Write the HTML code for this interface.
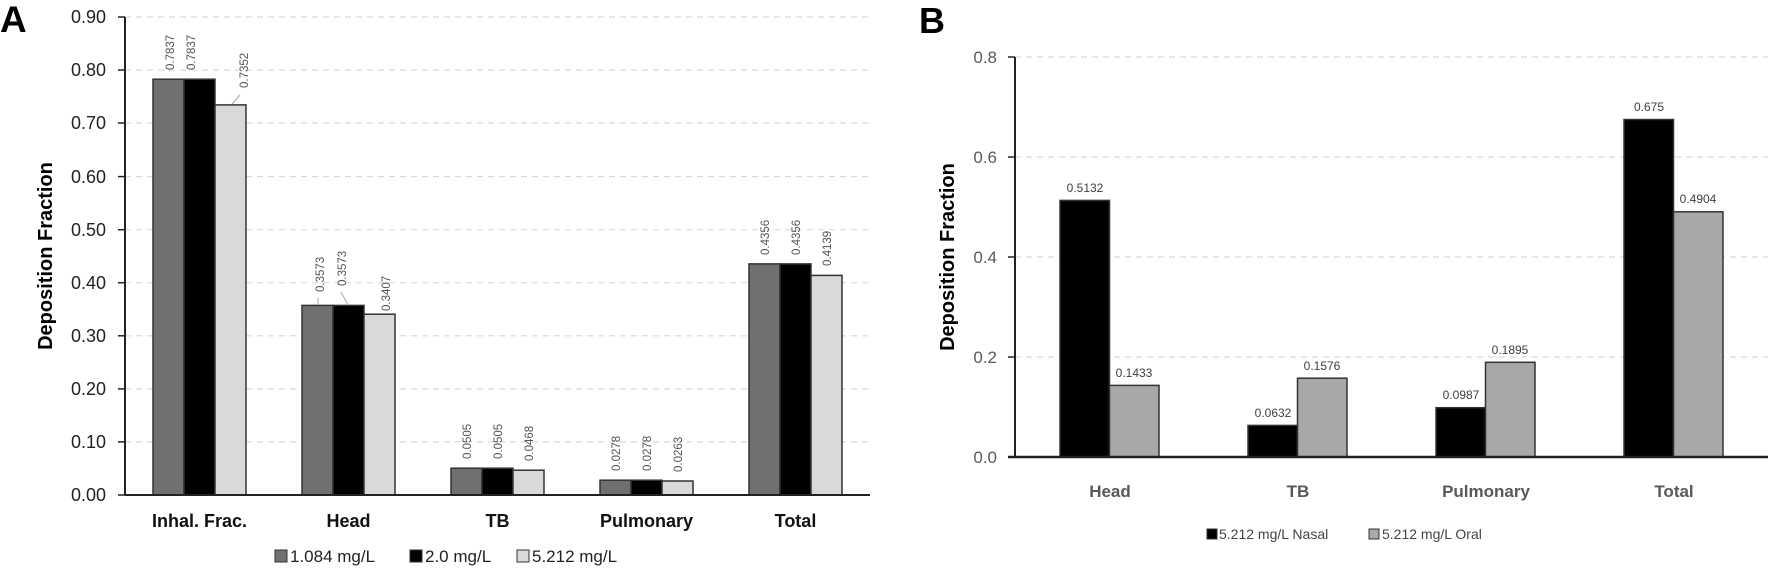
<!DOCTYPE html>
<html><head><meta charset="utf-8"><style>
html,body{margin:0;padding:0;background:#fff;}
svg{display:block;font-family:"Liberation Sans",sans-serif;}
.t{font-size:18px;fill:#222;}
.tb{font-size:17px;fill:#595959;}
.v{font-size:11.5px;fill:#555;}
.vb{font-size:12px;fill:#404040;}
.c{font-size:18px;font-weight:bold;fill:#111;}
.cb{font-size:17px;font-weight:bold;fill:#595959;}
.g{stroke:#d9d9d9;stroke-width:1.2;stroke-dasharray:6,5;}
</style></head><body>
<svg width="1772" height="573" viewBox="0 0 1772 573" xmlns="http://www.w3.org/2000/svg">
<text x="0" y="32" style="font-size:37px;font-weight:bold" fill="#000">A</text>
<text x="919" y="33" style="font-size:36px;font-weight:bold" fill="#000">B</text>

<!-- Chart A -->
<g>
<line class="g" x1="125" x2="870" y1="17" y2="17"/>
<line class="g" x1="125" x2="870" y1="70" y2="70"/>
<line class="g" x1="125" x2="870" y1="123" y2="123"/>
<line class="g" x1="125" x2="870" y1="176.6" y2="176.6"/>
<line class="g" x1="125" x2="870" y1="229.7" y2="229.7"/>
<line class="g" x1="125" x2="870" y1="282.7" y2="282.7"/>
<line class="g" x1="125" x2="870" y1="335.8" y2="335.8"/>
<line class="g" x1="125" x2="870" y1="388.9" y2="388.9"/>
<line class="g" x1="125" x2="870" y1="441.9" y2="441.9"/>
<g class="t" text-anchor="end">
<text x="106" y="23">0.90</text><text x="106" y="76">0.80</text><text x="106" y="129">0.70</text>
<text x="106" y="183">0.60</text><text x="106" y="236">0.50</text><text x="106" y="289">0.40</text>
<text x="106" y="342">0.30</text><text x="106" y="395">0.20</text><text x="106" y="448">0.10</text>
<text x="106" y="501">0.00</text>
</g>
<g stroke="#222" stroke-width="1.5">
<line x1="118" x2="125" y1="17" y2="17"/><line x1="118" x2="125" y1="70" y2="70"/><line x1="118" x2="125" y1="123" y2="123"/>
<line x1="118" x2="125" y1="176.6" y2="176.6"/><line x1="118" x2="125" y1="229.7" y2="229.7"/><line x1="118" x2="125" y1="282.7" y2="282.7"/>
<line x1="118" x2="125" y1="335.8" y2="335.8"/><line x1="118" x2="125" y1="388.9" y2="388.9"/><line x1="118" x2="125" y1="441.9" y2="441.9"/>
<line x1="118" x2="125" y1="495" y2="495"/>
</g>
<g stroke="#333" stroke-width="1.5">
<rect x="153" y="79.2" width="31" height="415.8" fill="#707070"/>
<rect x="184" y="79.2" width="31" height="415.8" fill="#000"/>
<rect x="215" y="104.9" width="31" height="390.1" fill="#d9d9d9"/>
<rect x="302" y="305.4" width="31" height="189.6" fill="#707070"/>
<rect x="333" y="305.4" width="31" height="189.6" fill="#000"/>
<rect x="364" y="314.2" width="31" height="180.8" fill="#d9d9d9"/>
<rect x="451" y="468.2" width="31" height="26.8" fill="#707070"/>
<rect x="482" y="468.2" width="31" height="26.8" fill="#000"/>
<rect x="513" y="470.2" width="31" height="24.8" fill="#d9d9d9"/>
<rect x="600" y="480.2" width="31" height="14.8" fill="#707070"/>
<rect x="631" y="480.2" width="31" height="14.8" fill="#000"/>
<rect x="662" y="481" width="31" height="14" fill="#d9d9d9"/>
<rect x="749" y="263.9" width="31" height="231.1" fill="#707070"/>
<rect x="780" y="263.9" width="31" height="231.1" fill="#000"/>
<rect x="811" y="275.4" width="31" height="219.6" fill="#d9d9d9"/>
</g>
<line x1="125" y1="17" x2="125" y2="495" stroke="#222" stroke-width="2"/>
<line x1="125" y1="495" x2="870" y2="495" stroke="#222" stroke-width="2"/>
<g stroke="#aaa" stroke-width="1">
<line x1="232" y1="104" x2="240" y2="95"/>
<line x1="318" y1="298" x2="318" y2="305"/>
<line x1="341" y1="292" x2="348" y2="305"/>
</g>
<g class="v">
<text transform="translate(174,70) rotate(-90)">0.7837</text>
<text transform="translate(195,70) rotate(-90)">0.7837</text>
<text transform="translate(248,88) rotate(-90)">0.7352</text>
<text transform="translate(324,292) rotate(-90)">0.3573</text>
<text transform="translate(346,286) rotate(-90)">0.3573</text>
<text transform="translate(390,311) rotate(-90)">0.3407</text>
<text transform="translate(471,459) rotate(-90)">0.0505</text>
<text transform="translate(502,459) rotate(-90)">0.0505</text>
<text transform="translate(533,461) rotate(-90)">0.0468</text>
<text transform="translate(620,471) rotate(-90)">0.0278</text>
<text transform="translate(651,471) rotate(-90)">0.0278</text>
<text transform="translate(682,472) rotate(-90)">0.0263</text>
<text transform="translate(769,255) rotate(-90)">0.4356</text>
<text transform="translate(800,255) rotate(-90)">0.4356</text>
<text transform="translate(831,266) rotate(-90)">0.4139</text>
</g>
<g class="c" text-anchor="middle">
<text x="199.5" y="527">Inhal. Frac.</text>
<text x="348.5" y="527">Head</text>
<text x="497.5" y="527">TB</text>
<text x="646.5" y="527">Pulmonary</text>
<text x="795.5" y="527">Total</text>
</g>
<text transform="translate(52,256) rotate(-90)" text-anchor="middle" style="font-size:20px;font-weight:bold" fill="#000">Deposition Fraction</text>
<g style="font-size:17px" fill="#222">
<rect x="275" y="550" width="12" height="12" fill="#707070" stroke="#333"/>
<text x="290" y="562">1.084 mg/L</text>
<rect x="410" y="550" width="12" height="12" fill="#000" stroke="#333"/>
<text x="425" y="562">2.0 mg/L</text>
<rect x="517" y="550" width="12" height="12" fill="#d9d9d9" stroke="#333"/>
<text x="532" y="562">5.212 mg/L</text>
</g>
</g>

<!-- Chart B -->
<g>
<line class="g" x1="1015" x2="1768" y1="57" y2="57"/>
<line class="g" x1="1015" x2="1768" y1="157" y2="157"/>
<line class="g" x1="1015" x2="1768" y1="257" y2="257"/>
<line class="g" x1="1015" x2="1768" y1="357" y2="357"/>
<g class="tb" text-anchor="end">
<text x="997" y="63">0.8</text><text x="997" y="163">0.6</text><text x="997" y="263">0.4</text>
<text x="997" y="363">0.2</text><text x="997" y="463">0.0</text>
</g>
<g stroke="#222" stroke-width="1.5">
<line x1="1008" x2="1015" y1="57" y2="57"/><line x1="1008" x2="1015" y1="157" y2="157"/>
<line x1="1008" x2="1015" y1="257" y2="257"/><line x1="1008" x2="1015" y1="357" y2="357"/>
<line x1="1008" x2="1015" y1="457" y2="457"/>
</g>
<g stroke="#333" stroke-width="1.5">
<rect x="1060" y="200.4" width="49.5" height="256.6" fill="#000"/>
<rect x="1109.5" y="385.4" width="49.5" height="71.6" fill="#a9a8a6"/>
<rect x="1248" y="425.4" width="49.5" height="31.6" fill="#000"/>
<rect x="1297.5" y="378.2" width="49.5" height="78.8" fill="#a9a8a6"/>
<rect x="1436" y="407.7" width="49.5" height="49.3" fill="#000"/>
<rect x="1485.5" y="362.3" width="49.5" height="94.7" fill="#a9a8a6"/>
<rect x="1624" y="119.5" width="49.5" height="337.5" fill="#000"/>
<rect x="1673.5" y="211.8" width="49.5" height="245.2" fill="#a9a8a6"/>
</g>
<line x1="1015" y1="57" x2="1015" y2="457" stroke="#222" stroke-width="2"/>
<line x1="1008" y1="457" x2="1768" y2="457" stroke="#222" stroke-width="2.5"/>
<g class="vb" text-anchor="middle">
<text x="1085" y="192">0.5132</text>
<text x="1134" y="377">0.1433</text>
<text x="1273" y="417">0.0632</text>
<text x="1322" y="370">0.1576</text>
<text x="1461" y="399">0.0987</text>
<text x="1510" y="354">0.1895</text>
<text x="1649" y="111">0.675</text>
<text x="1698" y="203">0.4904</text>
</g>
<g class="cb" text-anchor="middle">
<text x="1110" y="497">Head</text>
<text x="1298" y="497">TB</text>
<text x="1486" y="497">Pulmonary</text>
<text x="1674" y="497">Total</text>
</g>
<text transform="translate(954,257) rotate(-90)" text-anchor="middle" style="font-size:20px;font-weight:bold" fill="#000">Deposition Fraction</text>
<g style="font-size:14px" fill="#444">
<rect x="1207" y="529" width="10" height="10" fill="#000" stroke="#333"/>
<text x="1219" y="539">5.212 mg/L Nasal</text>
<rect x="1369" y="529" width="10" height="10" fill="#a9a8a6" stroke="#333"/>
<text x="1382" y="539">5.212 mg/L Oral</text>
</g>
</g>
</svg>
</body></html>
